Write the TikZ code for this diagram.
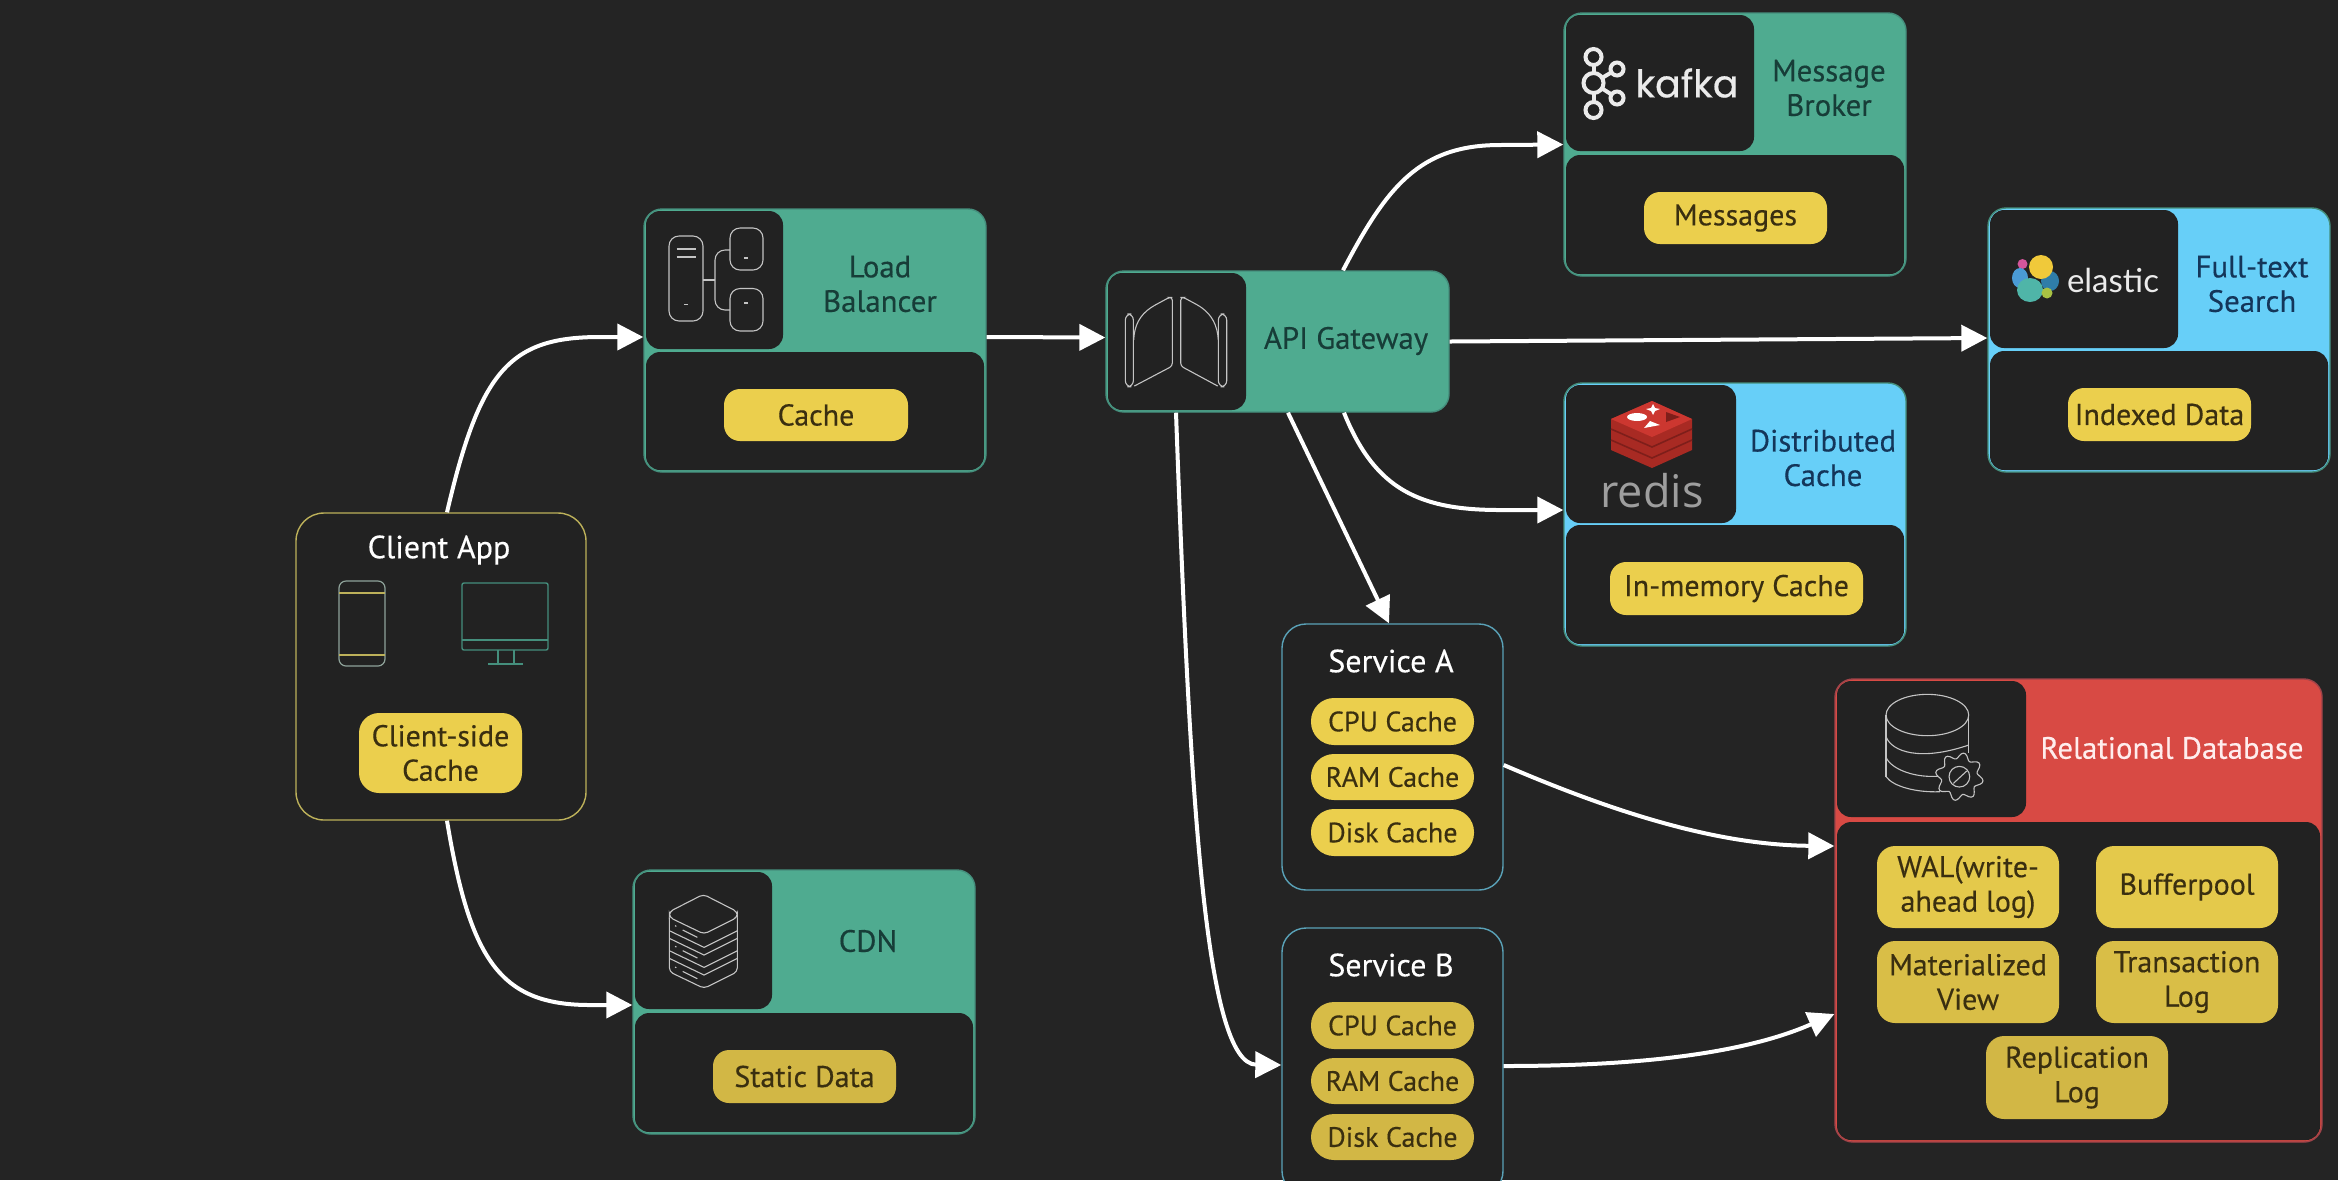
\documentclass[tikz,border=0pt]{standalone}
\usepackage{fontspec}
\setmainfont[FakeBold=0.35]{PT Sans}
\newfontfamily\kafkafont[FakeBold=0.5]{Poppins}
\newfontfamily\elasticfont{Lato}
\newfontfamily\redisfont{Open Sans}
\usetikzlibrary{arrows.meta,fit,calc}
\definecolor{bgc}{HTML}{242424}
\definecolor{inner}{HTML}{222222}
\definecolor{grn}{HTML}{4FAB90}
\definecolor{blu}{HTML}{67CFF8}
\definecolor{rdd}{HTML}{D84A44}
\definecolor{edgeg}{HTML}{458F7D}
\definecolor{edger}{HTML}{A04349}
\definecolor{edges}{HTML}{5AA2B8}
\definecolor{edgec}{HTML}{BDB15A}
\definecolor{yellowa}{HTML}{EBCF4D}
\definecolor{yellowb}{HTML}{E4C94B}
\definecolor{yellowc}{HTML}{D2B745}
\definecolor{pilltxt}{HTML}{3A2F10}
\definecolor{gtxt}{HTML}{173D38}
\definecolor{btxt}{HTML}{14365A}
\definecolor{icong}{HTML}{C4C4C4}
\definecolor{phonec}{HTML}{8FA39A}
\definecolor{epink}{HTML}{D4559B}
\definecolor{eblue}{HTML}{4A9BD5}
\definecolor{edark}{HTML}{2F7DA8}
\definecolor{eyell}{HTML}{F0C93A}
\definecolor{eteal}{HTML}{4FB5A8}
\definecolor{egreen}{HTML}{A8C243}
\definecolor{rbody}{HTML}{A82A23}
\definecolor{rdark}{HTML}{7E1E1A}
\definecolor{rtop}{HTML}{CC3730}
\tikzset{
  outerbox/.style={rectangle,rounded corners=9pt,inner sep=0pt,line width=.7pt},
  iconbox/.style={rectangle,rounded corners=7pt,inner sep=0pt,fill=inner},
  bodybox/.style={rectangle,rounded corners=7pt,inner sep=0pt,fill=inner},
  plainbox/.style={rectangle,rounded corners=12pt,inner sep=0pt,line width=.7pt,fill=inner},
  pillbox/.style={rectangle,rounded corners=#1,inner sep=0pt},
  pilltext/.style={align=center,inner sep=0pt,text=pilltxt,font=\fontsize{15}{17.25}\selectfont},
  smalltext/.style={align=center,inner sep=0pt,text=pilltxt,font=\fontsize{14}{17}\selectfont},
  head/.style={align=center,inner sep=0pt,font=\fontsize{15.4}{17.25}\selectfont},
  titl/.style={align=center,inner sep=0pt,text=white,font=\fontsize{16}{17.25}\selectfont},
  link/.style={draw=white,line width=2pt,-{Triangle[length=13pt,width=13pt]}},
  icl/.style={draw=icong,line width=.55pt},
}
\newcommand{\card}[9]{%
  \node[outerbox,fill=#2,draw=#3,fit={(#4)(#5)}] (#1) {};
  \node[iconbox,fit={(#6)(#7)}] (#1icon) {};
  \node[bodybox,fit={(#8)(#9)}] (#1body) {};
}
% name, radius, fill, corner 1, corner 2, text
\newcommand{\pillnode}[6]{%
  \node[pillbox=#2,fill=#3,fit={(#4)(#5)}] (#1) {};
  \node[pilltext] (#1t) at (#1.center) {#6};
}
\newcommand{\svcpill}[5]{%
  \node[pillbox=11.5pt,fill=#2,fit={(#3)(#4)}] (#1) {};
  \node[smalltext] (#1t) at (#1.center) {#5};
}
\begin{document}
\begin{tikzpicture}[x=.5pt,y=-.5pt]
\path[use as bounding box,fill=bgc] (0,0) rectangle (2338,1180);
\clip (0,0) rectangle (2338,1180);

% cards
\card{lb}{grn}{edgeg}{644,209}{986,472}{646,211}{783,349}{646,352}{984,470}
\card{kafka}{grn}{edgeg}{1564,13}{1906,276}{1566,15}{1754,151}{1566,155}{1904,274}
\card{elastic}{blu}{edgeg}{1988,208}{2330,472}{1990,210}{2178,348}{1990,351}{2328,470}
\card{redis}{blu}{edgeg}{1564,383}{1906,646}{1566,385}{1736,523}{1566,525}{1904,644}
\card{cdn}{grn}{edgeg}{633,870}{975,1134}{635,872}{772,1009}{635,1013}{973,1132}
\card{db}{rdd}{edger}{1835,679}{2322,1142}{1837,681}{2026,817}{1837,822}{2320,1140}
% gateway (no body)
\node[outerbox,fill=grn,draw=edgeg,fit={(1106,271)(1449,412)}] (gw) {};
\node[iconbox,fit={(1108,273)(1246,410)}] (gwicon) {};

% plain boxes
\node[plainbox,draw=edgec,rounded corners=14pt,fit={(296,513)(586,820)}] (client) {};
\node[plainbox,draw=edges,fit={(1282,624)(1503,890)}] (sa) {};
\node[plainbox,draw=edges,fit={(1282,928)(1503,1195)}] (sb) {};

% header labels
\node[head,text=gtxt] (lbt) at (880,284) {Load\\Balancer};
\node[head,text=gtxt] (kat) at (1829,88) {Message\\Broker};
\node[head,text=btxt] (elt) at (2252,284) {Full-text\\Search};
\node[head,text=btxt] (ret) at (1823,458) {Distributed\\Cache};
\node[head,text=gtxt] (gwt) at (1346,341) {API Gateway};
\node[head,text=gtxt] (cdt) at (868,941) {CDN};
\node[head,text=white!93!red] (dbt) at (2172,748) {Relational Database};
\node[titl] (clt) at (439,550) {Client App};
\node[titl] (sat) at (1391,661) {Service A};
\node[titl] (sbt) at (1391,965) {Service B};

% pills
\pillnode{p1}{8pt}{yellowa}{724,389}{908,441}{Cache}
\pillnode{p2}{10pt}{yellowa}{359,713}{522,793}{Client-side\\Cache}
\pillnode{p3}{8pt}{yellowa}{1644,192}{1827,244}{Messages}
\pillnode{p4}{8pt}{yellowa}{2068,388}{2251,441}{Indexed Data}
\pillnode{p5}{8pt}{yellowa}{1610,562}{1863,615}{In-memory Cache}
\pillnode{p6}{8pt}{yellowc}{713,1050}{896,1103}{Static Data}
\svcpill{p7}{yellowa}{1311,698}{1474,745}{CPU Cache}
\svcpill{p8}{yellowa}{1311,754}{1474,800}{RAM Cache}
\svcpill{p9}{yellowa}{1311,809}{1474,856}{Disk Cache}
\svcpill{p10}{yellowc!70!yellowb}{1311,1002}{1474,1049}{CPU Cache}
\svcpill{p11}{yellowc!85!yellowb}{1311,1058}{1474,1104}{RAM Cache}
\svcpill{p12}{yellowc}{1311,1114}{1474,1160}{Disk Cache}
\pillnode{p13}{9pt}{yellowb}{1877,846}{2059,928}{WAL(write-\\ahead log)}
\pillnode{p14}{9pt}{yellowb}{2096,846}{2278,928}{Bufferpool}
\pillnode{p15}{9pt}{yellowc!60!yellowb}{1877,941}{2059,1023}{Materialized\\View}
\pillnode{p16}{9pt}{yellowc!60!yellowb}{2096,941}{2278,1023}{Transaction\\Log}
\pillnode{p17}{9pt}{yellowc}{1986,1036}{2168,1119}{Replication\\Log}

% logos as text
\node[inner sep=0pt,text=white!92!black,font=\kafkafont\fontsize{19}{19}\selectfont] (kal) at (1687,83) {kafka};
\node[inner sep=0pt,text=white!92!black,font=\elasticfont\fontsize{16.5}{16.5}\selectfont] (ell) at (2113,280) {elastic};
\node[inner sep=0pt,text=white!62!black,font=\redisfont\fontsize{22.5}{22.5}\selectfont] (rel) at (1652,491) {redis};

% client icons
\draw[draw=phonec,line width=.6pt,rounded corners=3.5pt] (339,581) rectangle (385,666);
\draw[draw=edgec,line width=.8pt] (339,593) -- (385,593) (339,655) -- (385,655);
\draw[draw=edgeg,line width=.7pt,rounded corners=1pt] (462,583) rectangle (548,650);
\draw[draw=edgeg,line width=.7pt] (462,640) -- (548,640) (498,650) -- (498,664) (514,650) -- (514,664) (488,664) -- (523,664);

% load balancer icon
\draw[icl,rounded corners=5pt] (669,236) rectangle (703,321);
\draw[icl] (676.5,249) -- (696,249) (676.5,257) -- (696,257) (684,304.5) -- (688,304.5);
\draw[icl,rounded corners=5pt] (730,228) rectangle (763,270);
\draw[icl,rounded corners=5pt] (730,288.5) rectangle (763,331);
\draw[icl] (744,258) -- (748,258) (744,303) -- (748,303);
\draw[icl] (703,280) -- (715,280);
\draw[icl,rounded corners=5pt] (730,250) -- (715,250) -- (715,310) -- (730,310);

% gateway icon
\begin{scope}[shift={(1090,260)},x=.1667pt,y=-.1667pt]
\draw[icl,rounded corners=3pt] (106,162) rectangle (130,380);
\draw[icl,rounded corners=3pt] (385,162) rectangle (410,380);
\draw[icl,rounded corners=1.5pt] (133,378) -- (247,318) -- (247,112) -- (238,112) -- (190,138) .. controls (150,165) and (133,195) .. (131,240);
\draw[icl,rounded corners=1.5pt] (383,378) -- (272,318) -- (272,112) -- (280,112) -- (328,138) .. controls (365,165) and (382,195) .. (385,240);
\end{scope}

% cdn icon
\begin{scope}[shift={(620,860)},x=.1667pt,y=-.1667pt]
\draw[icl,rounded corners=2pt] (250,103) -- (352,155) -- (352,172) -- (252,222) -- (148,172) -- (148,155) -- cycle;
\draw[icl,rounded corners=2pt] (148,172) -- (148,335) -- (252,385) -- (352,335) -- (352,172);
\foreach \t in {262,285,322,345}
  \draw[icl] (148,\t-50) -- (252,\t) -- (352,\t-50);
\foreach \d in {0,62,124}
  \draw[icl] (165,197+\d) -- (169,199+\d) (188,210+\d) -- (232,232+\d);
\end{scope}

% database icon
\begin{scope}[shift={(1820,670)},x=.1667pt,y=-.1667pt]
\draw[icl] (322,135) ellipse [x radius=124,y radius=62];
\draw[icl] (198,135) -- (198,320) (446,135) -- (446,250);
\draw[icl] (198,200) .. controls (215,245) and (300,275) .. (446,225);
\draw[icl] (198,262) .. controls (215,300) and (290,325) .. (360,318);
\draw[icl] (198,320) .. controls (220,350) and (290,368) .. (360,365);
\draw[icl,fill=inner] plot[smooth cycle,samples at={0,5,...,355},variable=\t] ({418+(63+9*sin(8*\t))*cos(\t)},{320+(63+9*sin(8*\t))*sin(\t)});
\draw[icl] (418,320) circle [radius=31];
\draw[icl] (400,340) -- (440,303);
\end{scope}

% kafka mark
\begin{scope}[draw=white!92!black,line width=2pt]
\draw (1593.5,66) -- (1593.5,101);
\draw (1593.5,83) -- (1617,69) (1593.5,83) -- (1617,98);
\draw[fill=inner] (1593.5,57) circle [radius=8];
\draw[fill=inner] (1593.5,110) circle [radius=8];
\draw[fill=inner] (1593.5,83) circle [radius=10];
\draw[fill=inner] (1617,69) circle [radius=6.5];
\draw[fill=inner] (1617,98) circle [radius=6.5];
\end{scope}

% elastic mark
\fill[epink] (2022.5,264) circle [radius=5];
\fill[eblue] (2020,278) ellipse [x radius=8,y radius=10];
\fill[edark] (2050,281) ellipse [x radius=9,y radius=10];
\fill[eyell] (2041,267) ellipse [x radius=12,y radius=12];
\fill[eteal] (2030,290) ellipse [x radius=13,y radius=12];
\fill[egreen] (2047,293) circle [radius=5.5];

% redis mark
\fill[rbody] (1611,419) -- (1652,401) -- (1692,419) -- (1692,450) -- (1652,468) -- (1611,450) -- cycle;
\draw[rdark,line width=.8pt] (1611,429) -- (1652,447) -- (1692,429) (1611,440) -- (1652,458) -- (1692,440);
\fill[rtop] (1611,419) -- (1652,401) -- (1692,419) -- (1652,437) -- cycle;
\fill[white] (1653,404) -- (1655,408) -- (1660,409) -- (1655,411) -- (1653,415) -- (1651,411) -- (1646,409) -- (1651,408) -- cycle;
\fill[white] (1637,417) ellipse [x radius=10,y radius=4];
\fill[white] (1650,421) -- (1660,425) -- (1644,428) -- cycle;
\fill[rdark] (1666,412) -- (1680,417) -- (1666,422) -- cycle;

% connectors
\draw[link] ([xshift=3pt]client.north) .. controls (480,370) and (510,337) .. (600,337) -- ([yshift=1.75pt]lb.west);
\draw[link] ([xshift=3pt]client.south) .. controls (470,960) and (500,1005) .. (590,1005) -- ([yshift=-1.5pt]cdn.west);
\draw[link] ([yshift=1.75pt]lb.east) -- ([yshift=2pt]gw.west);
\draw[link] ([xshift=32.75pt]gw.north) .. controls (1387,186) and (1420,145) .. (1500,145) -- (kafka.west);
\draw[link] (gw.east) -- ([yshift=1pt]elastic.west);
\draw[link] ([xshift=33.25pt]gw.south) .. controls (1375,490) and (1420,510) .. (1500,510) -- ([yshift=2.25pt]redis.west);
\draw[link] ([xshift=5.25pt]gw.south) -- ([xshift=-1.75pt]sa.north);
\draw[link] ([xshift=-50.75pt]gw.south) .. controls (1190,800) and (1205,1064) .. ([yshift=-1.75pt]sb.west);
\draw[link] ([yshift=-4pt]sa.east) .. controls (1620,815) and (1720,845) .. ([yshift=32.25pt]db.west);
\draw[link] ([yshift=-2.25pt]sb.east) .. controls (1600,1066) and (1730,1060) .. ([yshift=-51.75pt]db.west);
\end{tikzpicture}
\end{document}
